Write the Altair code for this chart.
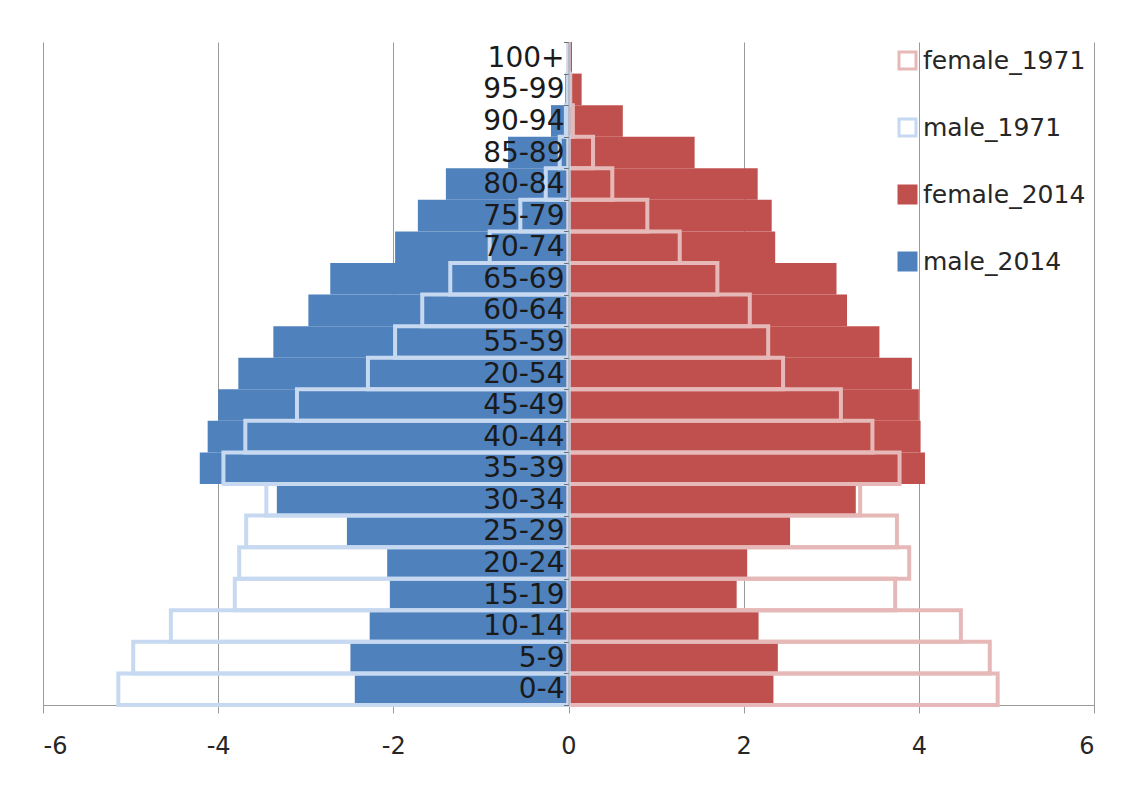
import altair as alt
import pandas as pd

ages = ["0-4", "5-9", "10-14", "15-19", "20-24", "25-29", "30-34", "35-39", "40-44",
        "45-49", "20-54", "55-59", "60-64", "65-69", "70-74", "75-79", "80-84",
        "85-89", "90-94", "95-99", "100+"]
male_2014 = [-2.44, -2.49, -2.27, -2.04, -2.07, -2.53, -3.33, -4.21, -4.12, -4.00, -3.77,
             -3.37, -2.97, -2.72, -1.98, -1.72, -1.40, -0.69, -0.20, -0.04, -0.01]
female_2014 = [2.34, 2.39, 2.17, 1.92, 2.04, 2.53, 3.28, 4.07, 4.02, 4.00, 3.92,
               3.55, 3.18, 3.06, 2.36, 2.32, 2.16, 1.44, 0.62, 0.15, 0.04]
male_1971 = [-5.14, -4.97, -4.54, -3.81, -3.76, -3.68, -3.45, -3.94, -3.69, -3.10, -2.29,
             -1.98, -1.67, -1.35, -0.90, -0.55, -0.26, -0.10, -0.03, -0.01, 0.0]
female_1971 = [4.90, 4.81, 4.48, 3.73, 3.89, 3.75, 3.33, 3.78, 3.47, 3.11, 2.45,
               2.28, 2.07, 1.70, 1.27, 0.90, 0.50, 0.28, 0.05, 0.02, 0.0]
x_ticks = [-6, -4, -2, 0, 2, 4, 6]

series_order = ["female_1971", "male_1971", "female_2014", "male_2014"]
fill_range = ["transparent", "transparent", "#c0504d", "#4f81bd"]
stroke_range = ["#e6b9b8", "#c6d9f1", "#c0504d", "#4f81bd"]

def long(name, vals):
    return pd.DataFrame({"age": ages, "value": vals, "series": name})

df2014 = pd.concat([long("female_2014", female_2014), long("male_2014", male_2014)])
df1971 = pd.concat([long("female_1971", female_1971), long("male_1971", male_1971)])
df_ages = pd.DataFrame({"age": ages})

FONT = "DejaVu Sans"
y_sort = ages[::-1]
y_scale = alt.Scale(paddingInner=0, paddingOuter=0)
x_scale = alt.Scale(domain=[-6, 6], nice=False)

legend = alt.Legend(title=None, orient="none", legendX=852, legendY=6, direction="vertical",
                    symbolType="square", symbolSize=289, symbolStrokeWidth=3,
                    labelFontSize=25, labelFont=FONT, labelColor="#262626", labelOffset=3,
                    labelLimit=300, rowPadding=38, padding=0)
fill_enc = alt.Fill("series:N", scale=alt.Scale(domain=series_order, range=fill_range), legend=legend)
stroke_enc = alt.Stroke("series:N", scale=alt.Scale(domain=series_order, range=stroke_range), legend=legend)

x_axis = alt.Axis(values=x_ticks, grid=True, gridColor="#9a9a9a", gridWidth=1,
                  tickColor="#9a9a9a", domainColor="#9a9a9a", tickSize=8,
                  labelFontSize=24, labelFont=FONT, labelColor="#262626", labelPadding=21,
                  labelExpr="'' + datum.value", title=None, zindex=0)
y_axis = alt.Axis(orient="left", offset=-525.5, labels=False, title=None, ticks=True,
                  tickSize=5, tickColor="#6f6f6f", domainColor="#a0a0a0", tickBand="extent",
                  grid=False, zindex=1)

bars2014 = alt.Chart(df2014).mark_bar(strokeWidth=0).encode(
    y=alt.Y("age:N", sort=y_sort, scale=y_scale, axis=y_axis),
    x=alt.X("value:Q", scale=x_scale, axis=x_axis),
    fill=fill_enc,
    stroke=stroke_enc,
)

bars1971 = alt.Chart(df1971).mark_bar(strokeWidth=4).encode(
    y=alt.Y("age:N", sort=y_sort),
    x=alt.X("value:Q"),
    fill=fill_enc,
    stroke=stroke_enc,
)

labels = alt.Chart(df_ages).mark_text(align="right", baseline="middle", dx=-4, dy=1,
                                      fontSize=28, font=FONT, color="#1a1a1a").encode(
    y=alt.Y("age:N", sort=y_sort),
    x=alt.datum(0),
    text="age:N",
)

chart = alt.layer(bars2014, bars1971, labels).properties(
    width=1051, height=663,
    padding={"left": 35, "top": 34, "right": 20, "bottom": 60},
    autosize=alt.AutoSizeParams(type="none"),
    background="white",
).configure_view(stroke=None)

chart.save("out.html", embed_options={"renderer": "svg", "actions": False})
